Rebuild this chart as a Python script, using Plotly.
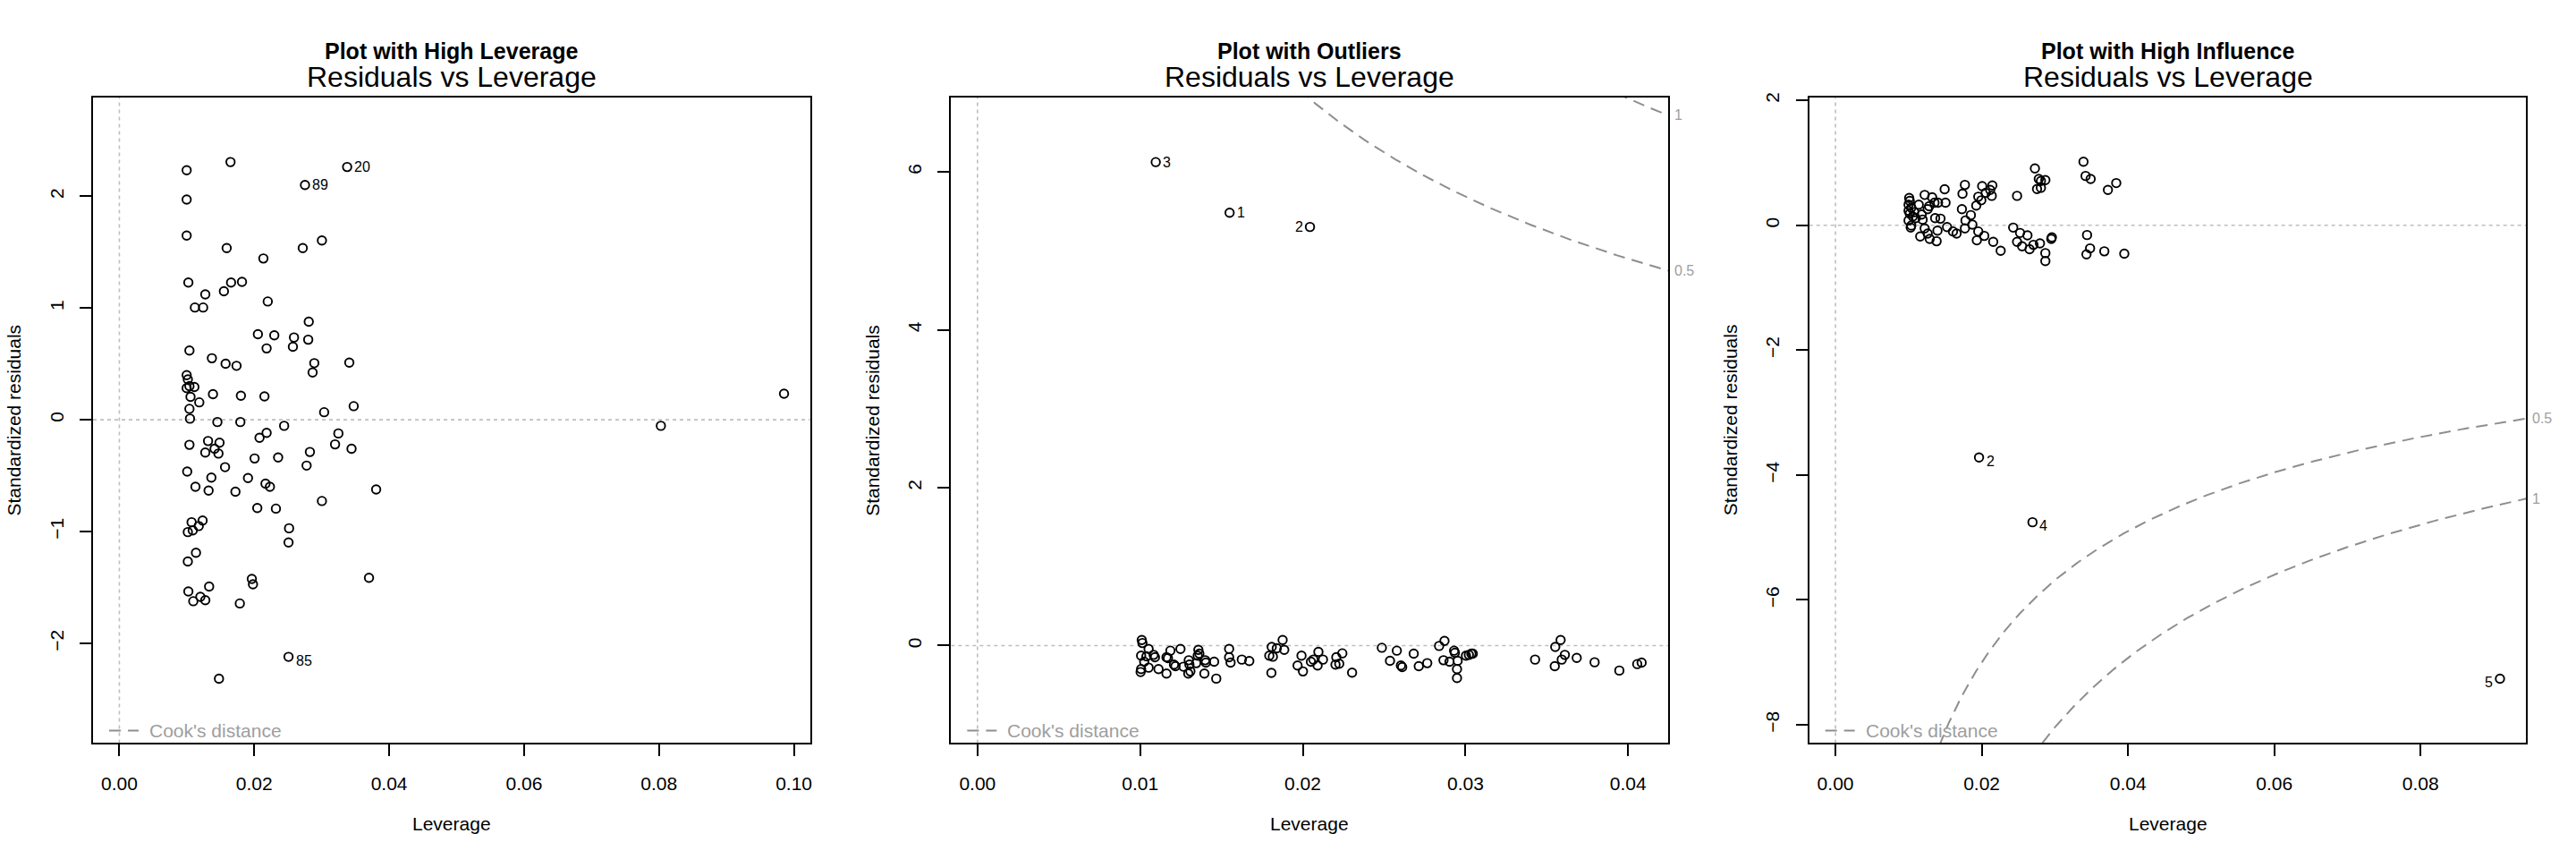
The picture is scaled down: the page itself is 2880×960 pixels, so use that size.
import numpy as np
import plotly.graph_objects as go

# ---------------- data ----------------
panel_titles = ["Plot with High Leverage", "Plot with Outliers", "Plot with High Influence"]
main_title = "Residuals vs Leverage"
x_label = "Leverage"
y_label = "Standardized residuals"
legend_label = "Cook's distance"
cook_levels = [0.5, 1]
n_params = 2

# Panel 1: high leverage
lev1 = [0.00998, 0.01648, 0.03377, 0.02752, 0.00998, 0.00998, 0.01591, 0.02719, 0.03003, 0.02135,
        0.01023, 0.01656, 0.01818, 0.01274, 0.01550, 0.01120, 0.01242, 0.02200, 0.02808, 0.02054,
        0.02297, 0.02589, 0.02800, 0.02183, 0.02573, 0.01039, 0.01372, 0.01575, 0.01737, 0.02890,
        0.02865, 0.03409, 0.00998, 0.01015, 0.00998, 0.01039, 0.01112, 0.01055, 0.01185, 0.01388,
        0.01802, 0.02151, 0.01039, 0.03036, 0.03474, 0.01047, 0.01453, 0.01794, 0.02443, 0.08028,
        0.09854, 0.01039, 0.01315, 0.01485, 0.01412, 0.01274, 0.01469, 0.02078, 0.02183, 0.03247,
        0.03198, 0.03442, 0.02825, 0.02354, 0.02005, 0.02776, 0.01006, 0.01567, 0.01364, 0.01907,
        0.01128, 0.01323, 0.01721, 0.02167, 0.02232, 0.03807, 0.03003, 0.02045, 0.02321, 0.01071,
        0.01234, 0.01177, 0.01015, 0.01088, 0.02516, 0.02508, 0.01136, 0.01015, 0.01964, 0.01981,
        0.03701, 0.01331, 0.01023, 0.01201, 0.01096, 0.01274, 0.01786, 0.02508, 0.01477]
res1 = [2.234, 2.307, 2.263, 2.102, 1.971, 1.649, 1.537, 1.537, 1.605, 1.444,
        1.229, 1.229, 1.234, 1.122, 1.151, 1.005, 1.005, 1.059, 0.878, 0.766,
        0.756, 0.737, 0.717, 0.639, 0.654, 0.620, 0.551, 0.502, 0.483, 0.507,
        0.424, 0.512, 0.400, 0.361, 0.283, 0.302, 0.293, 0.205, 0.156, 0.229,
        0.215, 0.210, 0.098, 0.068, 0.122, 0.010, -0.020, -0.020, -0.054, -0.054,
        0.234, -0.224, -0.190, -0.205, -0.259, -0.293, -0.302, -0.161, -0.117, -0.122,
        -0.220, -0.259, -0.288, -0.337, -0.346, -0.410, -0.463, -0.424, -0.517, -0.522,
        -0.600, -0.634, -0.644, -0.571, -0.600, -0.624, -0.727, -0.790, -0.795, -0.917,
        -0.902, -0.951, -1.005, -0.990, -0.971, -1.098, -1.190, -1.268, -1.424, -1.473,
        -1.415, -1.493, -1.537, -1.585, -1.624, -1.615, -1.644, -2.122, -2.317]
ids1 = {2: "20", 3: "89", 97: "85"}

# Panel 2: outliers
lev2 = [0.01550, 0.02044, 0.01096,
        0.01010, 0.01014, 0.01052, 0.01006, 0.01039, 0.01083, 0.01091, 0.01006, 0.01003, 0.01052,
        0.01025, 0.01113, 0.01162, 0.01162, 0.01186, 0.01248, 0.01171, 0.01208, 0.01217, 0.01266,
        0.01299, 0.01303, 0.01309, 0.01296, 0.01345, 0.01358, 0.01364, 0.01354, 0.01400, 0.01404,
        0.01395, 0.01455, 0.01468, 0.01547, 0.01547, 0.01556, 0.01625, 0.01671, 0.01809, 0.01876,
        0.01886, 0.01840, 0.01794, 0.01816, 0.01807, 0.01968, 0.01992, 0.02001, 0.02050, 0.02065,
        0.02091, 0.02096, 0.02124, 0.02206, 0.02243, 0.02201, 0.02224, 0.02303, 0.02486, 0.02536,
        0.02578, 0.02603, 0.02611, 0.02682, 0.02713, 0.02765, 0.02838, 0.02871, 0.02865, 0.02902,
        0.02930, 0.02935, 0.02952, 0.02948, 0.02948, 0.03003, 0.03021, 0.03036, 0.03045, 0.03428,
        0.03552, 0.03585, 0.03611, 0.03592, 0.03549, 0.03684, 0.03794, 0.03946, 0.04056, 0.04083]
res2 = [5.482, 5.303, 6.124,
        0.070, 0.032, -0.043, -0.129, -0.137, -0.118, -0.148, -0.298, -0.336, -0.280,
        -0.204, -0.298, -0.355, -0.148, -0.065, -0.043, -0.160, -0.242, -0.261, -0.268,
        -0.186, -0.242, -0.328, -0.355, -0.223, -0.054, -0.103, -0.129, -0.186, -0.216,
        -0.355, -0.204, -0.419, -0.043, -0.148, -0.216, -0.178, -0.197, -0.017, 0.070,
        -0.054, -0.035, -0.129, -0.141, -0.347, -0.253, -0.129, -0.328, -0.204, -0.178,
        -0.253, -0.080, -0.178, -0.148, -0.099, -0.242, -0.231, -0.344, -0.028, -0.193,
        -0.065, -0.253, -0.272, -0.103, -0.261, -0.223, -0.005, 0.059, -0.186, -0.204,
        -0.065, -0.092, -0.193, -0.298, -0.411, -0.129, -0.118, -0.103, -0.103, -0.178,
        -0.017, 0.070, -0.118, -0.178, -0.261, -0.156, -0.212, -0.317, -0.235, -0.216]
ids2 = {0: "1", 1: "2", 2: "3"}

# Panel 3: high influence
lev3 = [0.01963, 0.02694, 0.09085,
        0.01008, 0.01016, 0.01000, 0.01037, 0.01000, 0.01016, 0.01057, 0.01077, 0.01098, 0.01000,
        0.01037, 0.01029, 0.01139, 0.01220, 0.01322, 0.01281, 0.01261, 0.01179, 0.01192, 0.01403,
        0.01354, 0.01505, 0.01493, 0.01363, 0.01436, 0.01220, 0.01159, 0.01261, 0.01289, 0.01383,
        0.01395, 0.01526, 0.01607, 0.01656, 0.01729, 0.01737, 0.01770, 0.01778, 0.01851, 0.01872,
        0.01770, 0.01925, 0.01953, 0.01994, 0.02006, 0.02055, 0.02116, 0.02145, 0.02137, 0.01953,
        0.02035, 0.01933, 0.02157, 0.02259, 0.02483, 0.02430, 0.02524, 0.02625, 0.02483, 0.02552,
        0.02654, 0.02707, 0.02796, 0.02951, 0.02959, 0.02870, 0.02870, 0.02727, 0.02780, 0.02809,
        0.02870, 0.02756, 0.02809, 0.03391, 0.03420, 0.03489, 0.03839, 0.03725, 0.03440, 0.03481,
        0.03432, 0.03676, 0.03949]
res3 = [-3.719, -4.757, -7.263,
        0.437, 0.390, 0.328, 0.280, 0.233, 0.185, 0.138, 0.209, 0.114, 0.076,
        -0.005, -0.038, 0.328, 0.485, 0.447, 0.304, 0.257, 0.171, 0.090, 0.361,
        0.361, 0.361, 0.575, 0.114, 0.105, -0.052, -0.181, -0.133, -0.219, -0.257,
        -0.086, -0.029, -0.100, -0.133, 0.257, 0.504, 0.646, 0.076, 0.162, 0.010,
        -0.052, 0.314, 0.456, 0.399, 0.627, 0.518, 0.566, 0.637, 0.470, -0.100,
        -0.171, -0.242, -0.266, -0.409, 0.470, -0.038, -0.124, -0.162, -0.266, -0.337,
        -0.385, -0.314, -0.290, -0.219, -0.195, -0.447, -0.575, 0.908, 0.741, 0.708,
        0.722, 0.580, 0.599, 1.017, 0.789, 0.741, 0.675, 0.566, -0.157, -0.371,
        -0.466, -0.418, -0.456]
ids3 = {0: "2", 1: "4", 2: "5"}

x_ranges = [[-0.0039, 0.1024], [-0.00162, 0.04246], [-0.00359, 0.09444]]
y_ranges = [[-2.894, 2.888], [-1.236, 6.947], [-8.294, 2.051]]
x_ticks = [[0, 0.02, 0.04, 0.06, 0.08, 0.10], [0, 0.01, 0.02, 0.03, 0.04], [0, 0.02, 0.04, 0.06, 0.08]]
y_ticks = [[-2, -1, 0, 1, 2], [0, 2, 4, 6], [-8, -6, -4, -2, 0, 2]]

panels = [(lev1, res1, ids1), (lev2, res2, ids2), (lev3, res3, ids3)]

# ---------------- styling / layout ----------------
FONT = "Liberation Sans, Arial, Helvetica, sans-serif"
W, H = 2880, 960
PW = 960
BOX_L, BOX_R, BOX_T, BOX_B = 104.1, 906.3, 104.1, 829.8
ZERO_COL = "#BEBEBE"
COOK_COL = "#8E8E8E"
LABEL_GRAY = "#9E9E9E"

fig = go.Figure()
annotations = []
shapes = []
layout_axes = {}

for i, (lev, res, ids) in enumerate(panels):
    k = "" if i == 0 else str(i + 1)
    xa, ya = "x" + k, "y" + k
    xr, yr = x_ranges[i], y_ranges[i]
    xdom = [(PW * i + BOX_L) / W, (PW * i + BOX_R) / W]
    ydom = [1 - BOX_B / H, 1 - BOX_T / H]

    # Cook's distance contours
    hh = np.linspace(max(xr[0], 1e-4), xr[1], 400)
    hh = hh[hh > 0]
    for lvl in cook_levels:
        r = np.sqrt(lvl * n_params * (1 - hh) / hh)
        for sgn in (1, -1):
            fig.add_trace(go.Scatter(x=hh, y=sgn * r, mode="lines", xaxis=xa, yaxis=ya,
                                     line=dict(color=COOK_COL, width=2, dash="13px,8px"),
                                     hoverinfo="skip", showlegend=False))
            yend = sgn * np.sqrt(lvl * n_params * (1 - xr[1]) / xr[1])
            if yr[0] < yend < yr[1]:
                annotations.append(dict(x=xr[1], y=yend, xref=xa, yref=ya, text=("%g" % lvl),
                                        showarrow=False, xanchor="left", yanchor="middle", xshift=5,
                                        font=dict(family=FONT, size=16, color=LABEL_GRAY)))

    # points
    fig.add_trace(go.Scatter(x=lev, y=res, mode="markers", xaxis=xa, yaxis=ya,
                             marker=dict(symbol="circle-open", size=9.5, color="black",
                                         line=dict(width=1.9, color="black")),
                             showlegend=False))

    # point labels
    xmid = (xr[0] + xr[1]) / 2
    for idx, txt in ids.items():
        px, py = lev[idx], res[idx]
        left = px > xmid
        annotations.append(dict(x=px, y=py, xref=xa, yref=ya, text=txt, showarrow=False,
                                xanchor="right" if left else "left", yanchor="middle",
                                xshift=-6 if left else 6, yshift=-4 if py < 0 else 0,
                                font=dict(family=FONT, size=16, color="black")))

    # zero reference lines
    shapes.append(dict(type="line", xref=xa, yref=ya + " domain", x0=0, x1=0, y0=0, y1=1,
                       line=dict(color=ZERO_COL, width=1.6, dash="4px,4px"), layer="below"))
    shapes.append(dict(type="line", xref=xa + " domain", yref=ya, x0=0, x1=1, y0=0, y1=0,
                       line=dict(color=ZERO_COL, width=1.6, dash="4px,4px"), layer="below"))

    # legend (bottom-left)
    bw = BOX_R - BOX_L
    bh = BOX_B - BOX_T
    shapes.append(dict(type="line", xref=xa + " domain", yref=ya + " domain",
                       x0=18 / bw, x1=51 / bw, y0=14 / bh, y1=14 / bh,
                       line=dict(color=COOK_COL, width=2, dash="13px,8px")))
    annotations.append(dict(x=61 / bw, y=14 / bh, xref=xa + " domain", yref=ya + " domain",
                            text=legend_label, showarrow=False, xanchor="left", yanchor="middle",
                            font=dict(family=FONT, size=21, color=LABEL_GRAY)))

    # titles
    cx = (PW * i + (BOX_L + BOX_R) / 2) / W
    annotations.append(dict(x=cx, y=1 - 52 / H, xref="paper", yref="paper",
                            text="<b>" + panel_titles[i] + "</b>", showarrow=False,
                            xanchor="center", yanchor="middle",
                            font=dict(family=FONT, size=25, color="black")))
    annotations.append(dict(x=cx, y=1 - 81 / H, xref="paper", yref="paper",
                            text=main_title, showarrow=False, xanchor="center", yanchor="middle",
                            font=dict(family=FONT, size=32, color="black")))
    annotations.append(dict(x=cx, y=1 - 920 / H, xref="paper", yref="paper",
                            text=x_label, showarrow=False, xanchor="center", yanchor="middle",
                            font=dict(family=FONT, size=21, color="black")))
    annotations.append(dict(x=(PW * i + 16) / W, y=1 - ((BOX_T + BOX_B) / 2) / H,
                            xref="paper", yref="paper", text=y_label, textangle=-90,
                            showarrow=False, xanchor="center", yanchor="middle",
                            font=dict(family=FONT, size=21, color="black")))

    axis_common = dict(showgrid=False, zeroline=False, showline=True, linecolor="black",
                       linewidth=2, mirror=True, ticks="outside", ticklen=13, tickwidth=2,
                       tickcolor="black", tickfont=dict(family=FONT, size=21, color="black"))
    layout_axes["xaxis" + k] = dict(domain=xdom, range=xr, anchor=ya, tickvals=x_ticks[i],
                                    tickformat=".2f", ticklabelstandoff=12, **axis_common)
    layout_axes["yaxis" + k] = dict(domain=ydom, range=yr, anchor=xa, tickvals=y_ticks[i],
                                    tickformat="d", tickangle=-90, ticklabelstandoff=10,
                                    **axis_common)

fig.update_layout(width=W, height=H, margin=dict(l=0, r=0, t=0, b=0),
                  paper_bgcolor="white", plot_bgcolor="white", showlegend=False,
                  annotations=annotations, shapes=shapes, **layout_axes)

fig.write_html("out.html", config={"displayModeBar": False},
               post_script="document.body.style.margin='0';document.body.style.overflow='hidden';")
